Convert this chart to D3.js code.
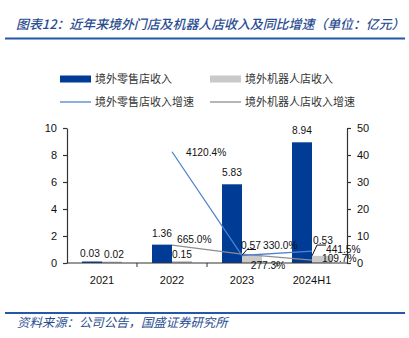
<!DOCTYPE html>
<html><head><meta charset="utf-8">
<script src="https://cdn.jsdelivr.net/npm/d3@7"></script>
<style>
body{margin:0;background:#fff;}
svg{display:block;}
</style></head>
<body><svg id="c" width="409" height="338"></svg>
<script>
const categories = ["2021","2022","2023","2024H1"];
const retail = [0.03, 1.36, 5.83, 8.94];
const robot = [0.02, 0.15, 0.57, 0.53];
const retailGrowth = [null, 4120.4, 277.3, 441.5];
const robotGrowth = [null, 665.0, 330.0, 109.7];
const leftTicks = [0,2,4,6,8,10];
const rightTicks = [0,10,20,30,40,50];
const title = "图表12：近年来境外门店及机器人店收入及同比增速（单位：亿元）";
const source = "资料来源：公司公告，国盛证券研究所";
const legendNames = ["境外零售店收入","境外机器人店收入","境外零售店收入增速","境外机器人店收入增速"];

const C = {blue:"#003b96", gray:"#c9c9c9", blueLine:"#4f83d1", grayLine:"#8e8e8e", title:"#2a4d92", rule:"#2557a8", axis:"#333"};
const numFont = "'Liberation Sans', Arial, sans-serif";
const cjkFont = "'Noto Sans CJK SC', sans-serif";

const svg = d3.select("#c");
const L = 67, R = 347, T = 128, B = 263;

// title
svg.append("text").attr("x",16).attr("y",29).attr("fill",C.title)
  .attr("font-family",cjkFont).attr("font-size",12.9).attr("font-style","italic").attr("font-weight",500)
  .text(title);
svg.append("line").attr("x1",5).attr("x2",405).attr("y1",38.5).attr("y2",38.5).attr("stroke",C.rule).attr("stroke-width",2);
svg.append("line").attr("x1",5).attr("x2",405).attr("y1",313).attr("y2",313).attr("stroke",C.rule).attr("stroke-width",2);
svg.append("text").attr("x",17).attr("y",327).attr("fill",C.title)
  .attr("font-family",cjkFont).attr("font-size",12.4).attr("font-style","italic")
  .text(source);

// legend
const lg = svg.append("g").attr("font-family",cjkFont).attr("font-size",11).attr("fill","#333");
const legendItems = [
  {x:60,y:79,type:"rect",color:C.blue,name:legendNames[0]},
  {x:210,y:79,type:"rect",color:C.gray,name:legendNames[1]},
  {x:60,y:102,type:"line",color:C.blueLine,name:legendNames[2]},
  {x:210,y:102,type:"line",color:C.grayLine,name:legendNames[3]}
];
legendItems.forEach(d=>{
  if(d.type==="rect") lg.append("rect").attr("x",d.x).attr("y",d.y-3.5).attr("width",31).attr("height",7).attr("fill",d.color);
  else lg.append("line").attr("x1",d.x).attr("x2",d.x+31).attr("y1",d.y).attr("y2",d.y).attr("stroke",d.color).attr("stroke-width",1.3);
  lg.append("text").attr("x",d.x+35).attr("y",d.y+4).text(d.name);
});

// scales
const x = d3.scaleBand().domain(categories).range([L,R]);
const yL = d3.scaleLinear().domain([0,10]).range([B,T]);
const yR = d3.scaleLinear().domain([0,50]).range([B,T]);
const bw = 20;
const cx = c => x(c)+x.bandwidth()/2;

// bars
const g = svg.append("g");
categories.forEach((c,i)=>{
  const hb = Math.max(B-yL(retail[i]),1.5), hg = Math.max(B-yL(robot[i]),1.5);
  g.append("rect").attr("x",cx(c)-bw).attr("y",B-hb).attr("width",bw).attr("height",hb).attr("fill",C.blue);
  g.append("rect").attr("x",cx(c)).attr("y",B-hg).attr("width",bw).attr("height",hg).attr("fill",C.gray);
});

// lines
function drawLine(vals,color){
  const pts = categories.map((c,i)=>({c,v:vals[i]})).filter(d=>d.v!=null);
  svg.append("path").datum(pts).attr("fill","none").attr("stroke",color).attr("stroke-width",1.3)
    .attr("d",d3.line().x(d=>cx(d.c)).y(d=>yR(d.v/100)));
}
drawLine(robotGrowth,C.grayLine);
drawLine(retailGrowth,C.blueLine);

// axes
const axL = svg.append("g").attr("transform",`translate(${L},0)`).call(d3.axisLeft(yL).tickValues(leftTicks).tickSize(4).tickSizeOuter(0).tickPadding(6));
const axR = svg.append("g").attr("transform",`translate(${R},0)`).call(d3.axisRight(yR).tickValues(rightTicks).tickSize(4).tickSizeOuter(0).tickPadding(6));
const axB = svg.append("g").attr("transform",`translate(0,${B})`).call(d3.axisBottom(x).tickSize(0).tickPadding(13));
categories.slice(1).forEach(c=>{
  svg.append("line").attr("x1",x(c)).attr("x2",x(c)).attr("y1",B).attr("y2",B+4).attr("stroke",C.axis);
});
[axL,axR,axB].forEach(a=>{
  a.selectAll("path,line").attr("stroke",C.axis).attr("stroke-width",1.2);
  a.selectAll("text").attr("font-family",numFont).attr("font-size",11).attr("fill","#111");
});
axB.select(".domain").attr("d",`M${L},0H${R}`);

// data labels
const lab = svg.append("g").attr("font-family",numFont).attr("font-size",10.2).attr("fill","#111");
categories.forEach((c,i)=>{
  let ty = Math.min(yL(retail[i]) - 8, 257);
  lab.append("text").attr("x",cx(c)-10 - (i===0?2:0)).attr("y",i===0?257:ty).attr("text-anchor","middle").text(retail[i].toFixed(2));
});
lab.append("text").attr("x",cx("2021")+12).attr("y",258).attr("text-anchor","middle").text(robot[0].toFixed(2));
lab.append("text").attr("x",cx("2022")+10).attr("y",258).attr("text-anchor","middle").text(robot[1].toFixed(2));
[["2023",2],["2024H1",3]].forEach(([c,i])=>{
  const px = cx(c), py = yL(robot[i]);
  const ly = yR(retailGrowth[i]/100) - 6;
  svg.append("path").attr("fill","none").attr("stroke","#111").attr("stroke-width",1)
    .attr("d",`M${px},${py}L${px+5},${ly}H${px+14}`);
  lab.append("text").attr("x",px+(i===2?-1:1)).attr("y",ly-1).text(robot[i].toFixed(2));
});
const fmt = v => v.toFixed(1)+"%";
lab.append("text").attr("x",cx("2022")+14).attr("y",yR(retailGrowth[1]/100)+4).text(fmt(retailGrowth[1]));
lab.append("text").attr("x",cx("2023")+26).attr("y",yR(retailGrowth[2]/100)+13).attr("text-anchor","middle").text(fmt(retailGrowth[2]));
lab.append("text").attr("x",cx("2024H1")+14).attr("y",yR(retailGrowth[3]/100)+2).text(fmt(retailGrowth[3]));
lab.append("text").attr("x",cx("2022")+5).attr("y",yR(robotGrowth[1]/100)-2).text(fmt(robotGrowth[1]));
lab.append("text").attr("x",cx("2023")+21).attr("y",yR(robotGrowth[2]/100)-5).text(fmt(robotGrowth[2]));
lab.append("text").attr("x",cx("2024H1")+10).attr("y",yR(robotGrowth[3]/100)+2).text(fmt(robotGrowth[3]));
</script></body></html>
